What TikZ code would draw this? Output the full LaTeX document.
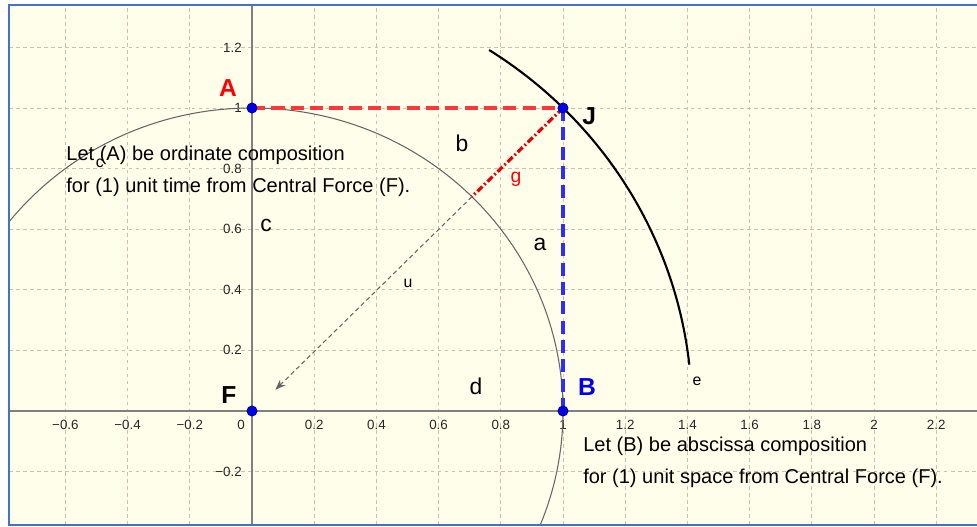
\documentclass[tikz,border=0pt]{standalone}
\usepackage{fontspec}
\setmainfont{Liberation Sans}
\usetikzlibrary{arrows.meta}
\definecolor{paper}{RGB}{255,254,234}
\definecolor{frameblue}{RGB}{68,114,196}
\definecolor{gridc}{RGB}{205,190,175}
\definecolor{axisc}{RGB}{128,128,128}
\definecolor{ptblue}{RGB}{0,0,235}
\definecolor{lred}{RGB}{255,55,55}
\definecolor{lblue}{RGB}{45,45,255}
\tikzset{
  pt/.style={circle,fill=ptblue,draw=ptblue!60!black,inner sep=0pt,minimum size=5.8pt},
  tick/.style={font=\fontsize{7.6}{8}\selectfont,text=black!85,inner sep=1pt},
  bigl/.style={font=\fontsize{14}{16}\selectfont\bfseries},
  lbl/.style={font=\fontsize{13}{15}\selectfont},
  smalll/.style={font=\fontsize{9}{10}\selectfont},
  note/.style={font=\fontsize{11.4}{18}\selectfont,align=left,anchor=west,inner sep=0pt},
  gridline/.style={gridc,line width=0.4pt,dash pattern=on 2pt off 2pt},
  bigdash/.style={line width=2pt,dash pattern=on 7.5pt off 3.5pt},
}
\begin{document}
\begin{tikzpicture}[x=6.22cm,y=6.06cm]
\useasboundingbox (-0.8103,-0.3828) rectangle (2.3312,1.3564);
\fill[paper] (-0.781,-0.376) rectangle (2.34,1.34);

% GRID
\foreach \x in {-0.6,-0.4,-0.2,0.2,0.4,0.6,0.8,1,1.2,1.4,1.6,1.8,2,2.2}
  \draw[gridline] (\x,-0.376) -- (\x,1.34);
\foreach \y in {-0.2,0.2,0.4,0.6,0.8,1,1.2}
  \draw[gridline] (-0.781,\y) -- (2.34,\y);

% AXES
\draw[axisc,line width=0.6pt] (-0.781,0) -- (2.34,0);
\draw[axisc,line width=0.6pt] (0,-0.376) -- (0,1.34);

\foreach \x/\t [count=\i] in {-0.6/−0.6,-0.4/−0.4,-0.2/−0.2,0.2/0.2,0.4/0.4,0.6/0.6,0.8/0.8,1/1,1.2/1.2,1.4/1.4,1.6/1.6,1.8/1.8,2/2,2.2/2.2}
  \node[tick] (xt\i) at (\x,-0.046) {\t};
\foreach \y/\t [count=\i] in {-0.2/−0.2,0.2/0.2,0.4/0.4,0.6/0.6,0.8/0.8,1/1,1.2/1.2}
  \node[tick,anchor=east] (yt\i) at (-0.026,\y) {\t};
\node[tick] (o) at (-0.035,-0.046) {0};

% POINTS
\coordinate (F) at (0,0);
\coordinate (A) at (0,1);
\coordinate (J) at (1,1);
\coordinate (B) at (1,0);
\coordinate (G) at (0.7071,0.7071);  % g meets the circle
\coordinate (U) at (0.075,0.07);     % tip of u
\coordinate (E0) at (0.7624,1.1914); % start of e

% CURVES
\begin{scope}
  \clip (-0.781,-0.376) rectangle (2.34,1.34);
  \draw[black!60,line width=0.6pt] (F) circle[x radius=1,y radius=1];
\end{scope}
\draw[line width=1.2pt] (E0) arc[start angle=57.39,end angle=6.2,x radius=1.4142,y radius=1.4142];

% LINES
\draw[lred,bigdash] (A) -- (J);
\draw[lblue,bigdash] (J) -- (B);
\draw[red!90!black,line width=1.8pt,dash pattern=on 4pt off 1.5pt on 1pt off 1.5pt] (J) -- (G);
\draw[black!60,line width=0.6pt,dash pattern=on 2.5pt off 1.8pt,-{Stealth[length=6pt,width=4.5pt]}] (G) -- (U);

\node[pt] (Fd) at (F) {};
\node[pt] (Ad) at (A) {};
\node[pt] (Jd) at (J) {};
\node[pt] (Bd) at (B) {};

% LABELS
\node[bigl,text=red] (Al) at (-0.077,1.066) {A};
\node[bigl] (Jl) at (1.084,0.974) {J};
\node[bigl,text=ptblue] (Bl) at (1.077,0.079) {B};
\node[bigl] (Fl) at (-0.074,0.053) {F};
\node[lbl] (bl) at (0.675,0.884) {b};
\node[lbl] (al) at (0.926,0.548) {a};
\node[lbl] (dl) at (0.720,0.083) {d};
\node[lbl] (cl) at (0.045,0.611) {c};
\node[font=\fontsize{11}{12}\selectfont,text=red] (gl) at (0.849,0.766) {g};
\node[smalll] (ul) at (0.502,0.422) {u};
\node[smalll] (el) at (1.431,0.099) {e};
\node[smalll] (ccl) at (-0.489,0.818) {c};

% NOTES
\node[note] (noteA) at (-0.598,0.792) {Let (A) be ordinate composition\\for (1) unit time from Central Force (F).};
\node[note] (noteB) at (1.064,-0.170) {Let (B) be abscissa composition\\for (1) unit space from Central Force (F).};

\draw[frameblue,line width=1.2pt] (-0.781,-0.376) rectangle (2.40,1.34);
\end{tikzpicture}
\end{document}
